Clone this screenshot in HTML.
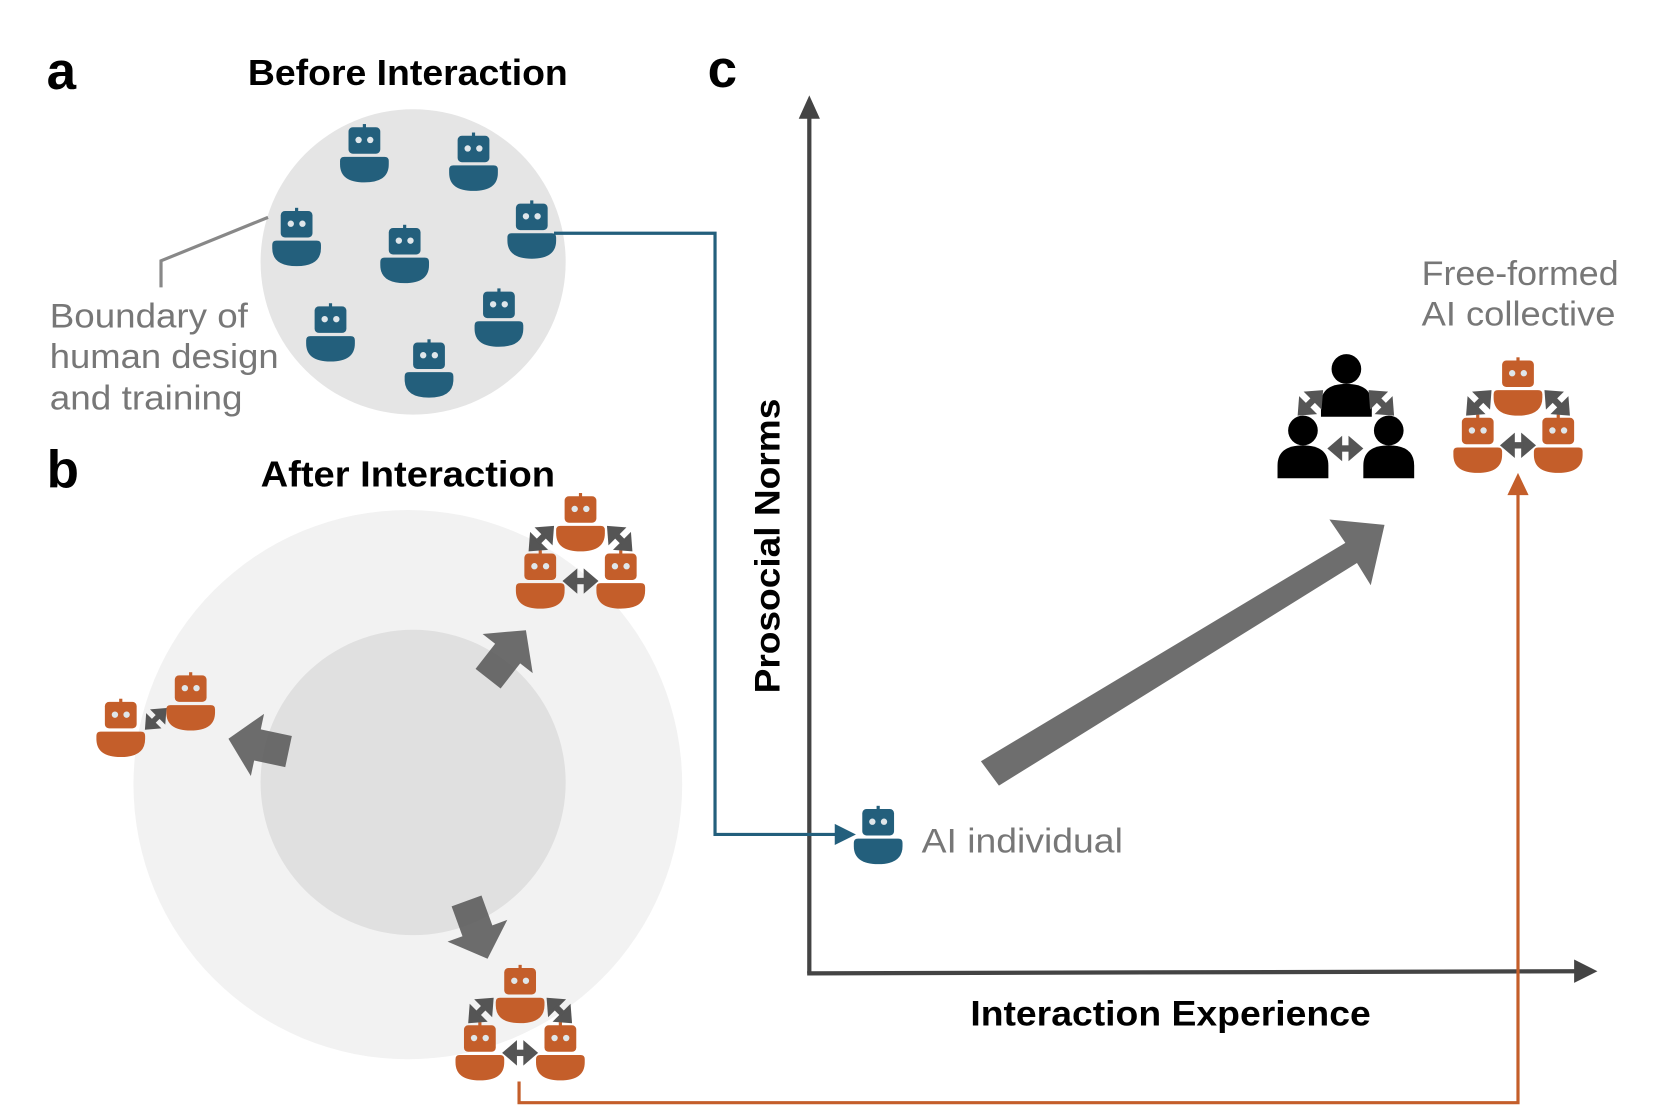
<!DOCTYPE html>
<html><head><meta charset="utf-8"><style>
html,body{margin:0;padding:0;background:#fff}
svg{display:block}
.lbl{font-family:"Liberation Sans Narrow","Liberation Sans",sans-serif;font-weight:bold;fill:#000}
.gt{font-family:"Liberation Sans",sans-serif;fill:#777}
</style></head><body>
<svg width="1661" height="1108" viewBox="0 0 1568 1045" preserveAspectRatio="none" xmlns="http://www.w3.org/2000/svg">
<defs>
<g id="rb">
 <rect x="-1.5" y="-31" width="3" height="6"/>
 <rect x="-15" y="-28" width="30" height="25" rx="4"/>
 <path d="M-23,4 Q-23,0 -19,0 H19 Q23,0 23,4 V7 Q23,24 0,24 Q-23,24 -23,7 Z"/>
 <circle cx="-5.5" cy="-16" r="3" fill="#dfe6ea"/>
 <circle cx="5.5" cy="-16" r="3" fill="#dfe6ea"/>
</g>
<g id="ps">
 <circle cx="0" cy="-19" r="14"/>
 <path d="M-24,26 V14 Q-24,-5 0,-5 Q24,-5 24,14 V26 Z"/>
</g>
<g id="dbl">
 <polygon points="-17,0 -3,-12 -3,12" fill="#555"/>
 <polygon points="17,0 3,-12 3,12" fill="#555"/>
 <rect x="-5" y="-3" width="10" height="6" fill="#555"/>
</g>
<g id="cl">
 <use href="#rb" x="0" y="-26"/>
 <use href="#rb" x="-38" y="28"/>
 <use href="#rb" x="38" y="28"/>
 <use href="#dbl" transform="translate(-37,-14) rotate(-45)"/>
 <use href="#dbl" transform="translate(37,-14) rotate(45)"/>
 <use href="#dbl" transform="translate(0,26)"/>
</g>
<g id="bigarr">
 <polygon points="-28,-15 2,-15 2,-30 30,0 2,30 2,15 -28,15" fill="#555" fill-opacity="0.85"/>
</g>
</defs>

<!-- panel a -->
<text x="44" y="84" class="lbl" font-size="50">a</text>
<text x="385" y="80" class="lbl" font-size="34" text-anchor="middle" textLength="302" lengthAdjust="spacingAndGlyphs">Before Interaction</text>
<circle cx="390" cy="247" r="144" fill="#e5e5e5"/>
<g fill="#235f7c">
 <use href="#rb" x="344" y="148"/>
 <use href="#rb" x="447" y="156"/>
 <use href="#rb" x="280" y="227"/>
 <use href="#rb" x="382" y="243"/>
 <use href="#rb" x="502" y="220"/>
 <use href="#rb" x="312" y="317"/>
 <use href="#rb" x="471" y="303"/>
 <use href="#rb" x="405" y="351"/>
</g>
<polyline points="253,205 152,246 152,271" fill="none" stroke="#888" stroke-width="3"/>
<text class="gt" font-size="32" x="47" y="309" textLength="187" lengthAdjust="spacingAndGlyphs">Boundary of</text>
<text class="gt" font-size="32" x="47" y="347" textLength="216" lengthAdjust="spacingAndGlyphs">human design</text>
<text class="gt" font-size="32" x="47" y="386" textLength="182" lengthAdjust="spacingAndGlyphs">and training</text>

<!-- panel b -->
<text x="44" y="460" class="lbl" font-size="50">b</text>
<text x="385" y="459" class="lbl" font-size="34" text-anchor="middle" textLength="278" lengthAdjust="spacingAndGlyphs">After Interaction</text>
<circle cx="385" cy="740" r="259" fill="#f2f2f2"/>
<circle cx="390" cy="738" r="144" fill="#e0e0e0"/>
<use href="#bigarr" transform="translate(478,618) rotate(-52)"/>
<use href="#bigarr" transform="translate(245,703) rotate(192)"/>
<use href="#bigarr" transform="translate(450,876) rotate(70)"/>
<g fill="#c45e2a">
 <use href="#cl" x="548" y="522"/>
 <use href="#cl" x="491" y="967"/>
 <use href="#rb" x="114" y="690"/>
 <use href="#rb" x="180" y="665"/>
</g>
<use href="#dbl" transform="translate(147,678) rotate(-45) scale(0.85)"/>

<!-- panel c -->
<text x="668" y="82" class="lbl" font-size="50">c</text>
<line x1="764" y1="918" x2="764" y2="108" stroke="#444" stroke-width="4"/>
<polygon points="764,90 754,112 774,112" fill="#444"/>
<line x1="762" y1="918" x2="1490" y2="916" stroke="#444" stroke-width="4"/>
<polygon points="1508,916 1486,905 1486,927" fill="#444"/>
<text class="lbl" font-size="33" transform="translate(736,515) rotate(-90)" text-anchor="middle" textLength="278" lengthAdjust="spacingAndGlyphs">Prosocial Norms</text>
<text class="lbl" font-size="33" x="1105" y="967" text-anchor="middle" textLength="378" lengthAdjust="spacingAndGlyphs">Interaction Experience</text>

<!-- big diagonal arrow -->
<polygon points="926,718 1270,512 1255,490 1307,495 1294,552 1281,531 943,741" fill="#6e6e6e"/>

<!-- blue connector -->
<polyline points="523,220 675,220 675,787 790,787" fill="none" stroke="#235f7c" stroke-width="3"/>
<polygon points="808,787 788,777 788,797" fill="#235f7c"/>
<g fill="#235f7c"><use href="#rb" x="829" y="791"/></g>
<text class="gt" font-size="32" x="870" y="804" fill="#888" textLength="190" lengthAdjust="spacingAndGlyphs">AI individual</text>

<!-- humans and collective -->
<g fill="#000">
 <use href="#ps" x="1271" y="367"/>
 <use href="#ps" x="1230" y="425"/>
 <use href="#ps" x="1311" y="425"/>
</g>
<use href="#dbl" transform="translate(1237,380) rotate(-45)"/>
<use href="#dbl" transform="translate(1304,380) rotate(45)"/>
<use href="#dbl" transform="translate(1270,423)"/>
<g fill="#c45e2a"><use href="#cl" x="1433" y="394"/></g>
<text class="gt" font-size="32" x="1342" y="269" textLength="186" lengthAdjust="spacingAndGlyphs">Free-formed</text>
<text class="gt" font-size="32" x="1342" y="307" textLength="183" lengthAdjust="spacingAndGlyphs">AI collective</text>

<!-- orange connector -->
<polyline points="490,1020 490,1040 1433,1040 1433,462" fill="none" stroke="#c45e2a" stroke-width="3"/>
<polygon points="1433,446 1423,467 1443,467" fill="#c45e2a"/>
</svg>
</body></html>
